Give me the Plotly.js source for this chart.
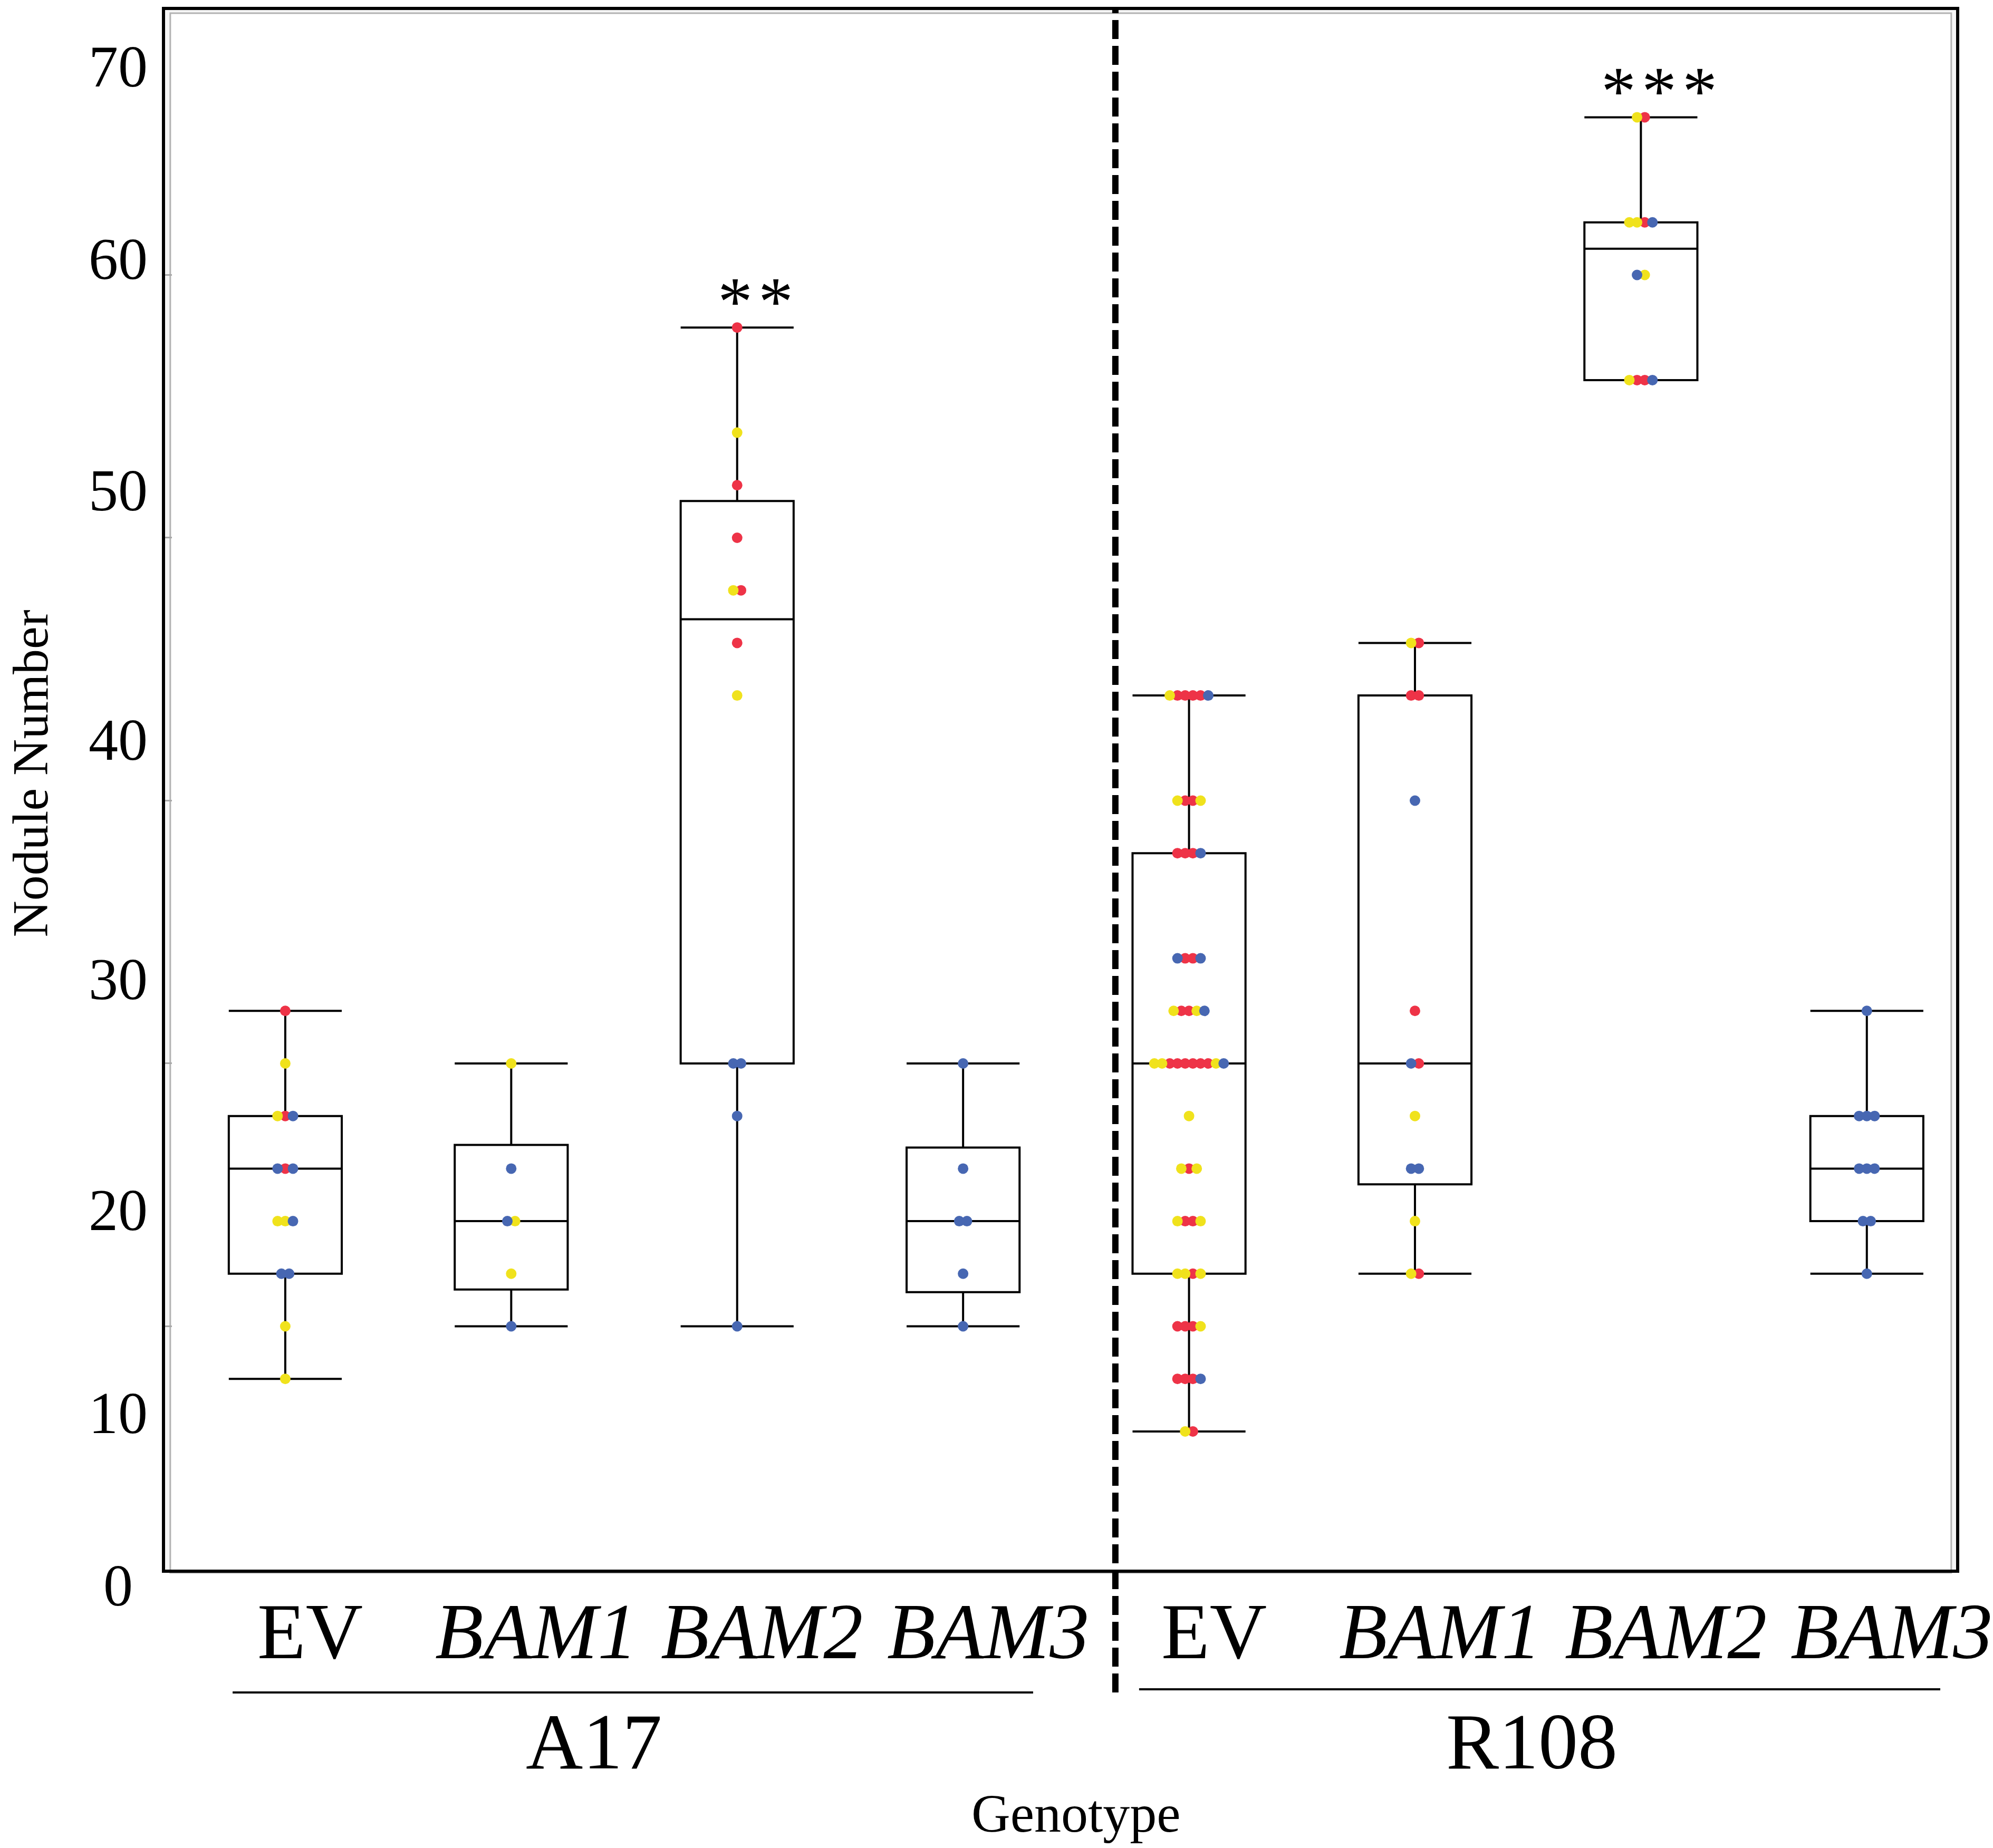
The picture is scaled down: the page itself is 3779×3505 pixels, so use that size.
<!DOCTYPE html>
<html>
<head>
<meta charset="utf-8">
<script src="https://cdn.plot.ly/plotly-3.0.1.min.js"></script>
<style>
    html, body {margin: 0; padding: 0; background: #ffffff;}
</style>
</head>
<body>
<div id="chart" style="width:3779px;height:3505px;"></div>
<script>
const categories = ["EV", "BAM1", "BAM2", "BAM3", "EV", "BAM1", "BAM2", "BAM3"];
const italicCategory = [false, true, true, true, false, true, true, true];
const genotypes = ["A17", "R108"];
const significance = ["", "", "**", "", "", "", "***", ""];

// box statistics, in category order
const q1Values = [12, 11.4, 20, 11.3, 12, 15.4, 46, 14];
const medianValues = [16, 14, 36.9, 14, 20, 20, 51, 16];
const q3Values = [18, 16.9, 41.4, 16.8, 28, 34, 52, 18];
const lowerValues = [8, 10, 10, 10, 6, 12, 46, 12];
const upperValues = [22, 20, 48, 20, 34, 36, 56, 22];

// dot rows: [nodule number, replicate of each dot from left to right]
// r = red, y = yellow, b = blue
const a17EvRows = [[22, "r"], [20, "y"], [18, "yrb"], [16, "brb"], [14, "yyb"], [12, "bb"], [10, "y"], [8, "y"]];
const a17Bam1Rows = [[20, "y"], [16, "b"], [14, "by"], [12, "y"], [10, "b"]];
const a17Bam2Rows = [[48, "r"], [44, "y"], [42, "r"], [40, "r"], [38, "yr"], [36, "r"], [34, "y"], [20, "bb"], [18, "b"], [10, "b"]];
const a17Bam3Rows = [[20, "b"], [16, "b"], [14, "bb"], [12, "b"], [10, "b"]];
const r108EvRows = [[34, "yrrrrb"], [30, "yrry"], [28, "rrrb"], [24, "brrb"], [22, "yrryb"], [20, "yyrrrrrryb"],
                    [18, "y"], [16, "yry"], [14, "yrry"], [12, "yyry"], [10, "rrry"], [8, "rrrb"], [6, "yr"]];
const r108Bam1Rows = [[36, "yr"], [34, "rr"], [30, "b"], [22, "r"], [20, "br"], [18, "y"], [16, "bb"], [14, "y"], [12, "yr"]];
const r108Bam2Rows = [[56, "yr"], [52, "yyrb"], [50, "by"], [46, "yrrb"]];
const r108Bam3Rows = [[22, "b"], [18, "bbb"], [16, "bbb"], [14, "bb"], [12, "b"]];

// y tick labels as printed, and where they sit on the nodule scale
const yTickText = ["0", "10", "20", "30", "40", "50", "60", "70"];
const yTickAt = [0.14, 6.7, 14.42, 23.21, 32.32, 41.81, 50.61, 57.93];

const groupRows = [a17EvRows, a17Bam1Rows, a17Bam2Rows, a17Bam3Rows,
                   r108EvRows, r108Bam1Rows, r108Bam2Rows, r108Bam3Rows];

const repColors = {r: "#ee3347", y: "#f0e21c", b: "#4767b2"};
const FONT = "Liberation Serif, Times New Roman, serif";
const Y_RANGE = [0.742, 60.08];
const X_RANGE = [-0.532, 7.395];
const DOT_STEP = 0.0341;

function yPaper(v) {
    return (v - Y_RANGE[0]) / (Y_RANGE[1] - Y_RANGE[0]);
}

// centred dot rows, like a dotplot
const dots = {r: {x: [], y: []}, y: {x: [], y: []}, b: {x: [], y: []}};
groupRows.forEach((rows, i) => {
    rows.forEach(([value, reps]) => {
        const n = reps.length;
        reps.split("").forEach((rep, k) => {
            dots[rep].x.push(i + (k - (n - 1) / 2) * DOT_STEP);
            dots[rep].y.push(value);
        });
    });
});

const boxTrace = {
    type: "box",
    x: categories.map((c, i) => i),
    q1: q1Values,
    median: medianValues,
    q3: q3Values,
    lowerfence: lowerValues,
    upperfence: upperValues,
    width: 0.5,
    whiskerwidth: 1,
    boxpoints: false,
    fillcolor: "#ffffff",
    line: {color: "#000000", width: 4},
    hoverinfo: "skip"
};

const dotTraces = Object.keys(dots).map(rep => ({
    type: "scatter",
    mode: "markers",
    x: dots[rep].x,
    y: dots[rep].y,
    marker: {color: repColors[rep], size: 20, line: {width: 0}},
    cliponaxis: false,
    hoverinfo: "skip"
}));

const annotations = [];

yTickText.forEach((t, i) => {
    annotations.push({
        text: t, xref: "paper", yref: "paper", x: 0, y: yPaper(yTickAt[i]),
        xanchor: "center", yanchor: "middle", xshift: -89, showarrow: false,
        font: {family: FONT, size: 112, color: "#000000"}
    });
});

categories.forEach((c, i) => {
    annotations.push({
        text: italicCategory[i] ? "<i>" + c + "</i>" : c,
        xref: "x", yref: "paper", x: i + 0.11, y: -0.0395,
        xanchor: "center", yanchor: "middle", showarrow: false,
        font: {family: FONT, size: 150, color: "#000000"}
    });
    if (significance[i]) {
        annotations.push({
            text: significance[i].split("").join("\u200a"),
            xref: "x", yref: "y", x: i + 0.08, y: upperValues[i] + 1.0,
            xanchor: "center", yanchor: "middle", showarrow: false,
            font: {family: FONT, size: 132, color: "#000000"}
        });
    }
});

const groupCentres = [1.366, 5.516];
genotypes.forEach((g, i) => {
    annotations.push({
        text: g, xref: "x", yref: "paper", x: groupCentres[i], y: -0.1102,
        xanchor: "center", yanchor: "middle", showarrow: false,
        font: {family: FONT, size: 150, color: "#000000"}
    });
});

annotations.push({
    text: "Genotype", xref: "paper", yref: "paper", x: 0.5088, y: -0.1565,
    xanchor: "center", yanchor: "middle", showarrow: false,
    font: {family: FONT, size: 102, color: "#000000"}
});
annotations.push({
    text: "Nodule Number", xref: "paper", yref: "paper", x: -0.0752, y: 0.5105,
    xanchor: "center", yanchor: "middle", textangle: -90, showarrow: false,
    font: {family: FONT, size: 96, color: "#000000"}
});

const shapes = [
    // light inner frame of the panel
    {type: "rect", xref: "paper", yref: "paper", x0: 0.0029, x1: 0.9973, y0: -0.002, y1: 0.998,
     fillcolor: "#ffffff", line: {color: "#b3b3b3", width: 3}, layer: "below"},
    // separator between the two genotypes
    {type: "line", xref: "x", yref: "paper", x0: 3.674, x1: 3.674, y0: -0.0788, y1: 1,
     line: {color: "#000000", width: 12, dash: "36px,13px"}},
    // genotype brackets under the category labels
    {type: "line", xref: "x", yref: "paper", x0: -0.233, x1: 3.31, y0: -0.0788, y1: -0.0788,
     line: {color: "#000000", width: 4}},
    {type: "line", xref: "x", yref: "paper", x0: 3.779, x1: 7.325, y0: -0.0767, y1: -0.0767,
     line: {color: "#000000", width: 4}}
];

const layout = {
    width: 3779,
    height: 3505,
    margin: {l: 313, r: 70, t: 19, b: 528},
    paper_bgcolor: "#ffffff",
    plot_bgcolor: "#f6f6f6",
    showlegend: false,
    hovermode: false,
    font: {family: FONT, color: "#000000"},
    xaxis: {
        range: X_RANGE,
        showgrid: false,
        zeroline: false,
        showticklabels: false,
        ticks: "",
        showline: true,
        mirror: true,
        linecolor: "#000000",
        linewidth: 6
    },
    yaxis: {
        range: Y_RANGE,
        showgrid: false,
        zeroline: false,
        showticklabels: false,
        tickmode: "array",
        tickvals: [10, 20, 30, 40, 50],
        ticks: "inside",
        ticklen: 13,
        tickwidth: 3,
        tickcolor: "#a8a8a8",
        showline: true,
        mirror: true,
        linecolor: "#000000",
        linewidth: 6
    },
    annotations: annotations,
    shapes: shapes
};

Plotly.newPlot("chart", [boxTrace].concat(dotTraces), layout, {displayModeBar: false, staticPlot: true});
</script>
</body>
</html>
